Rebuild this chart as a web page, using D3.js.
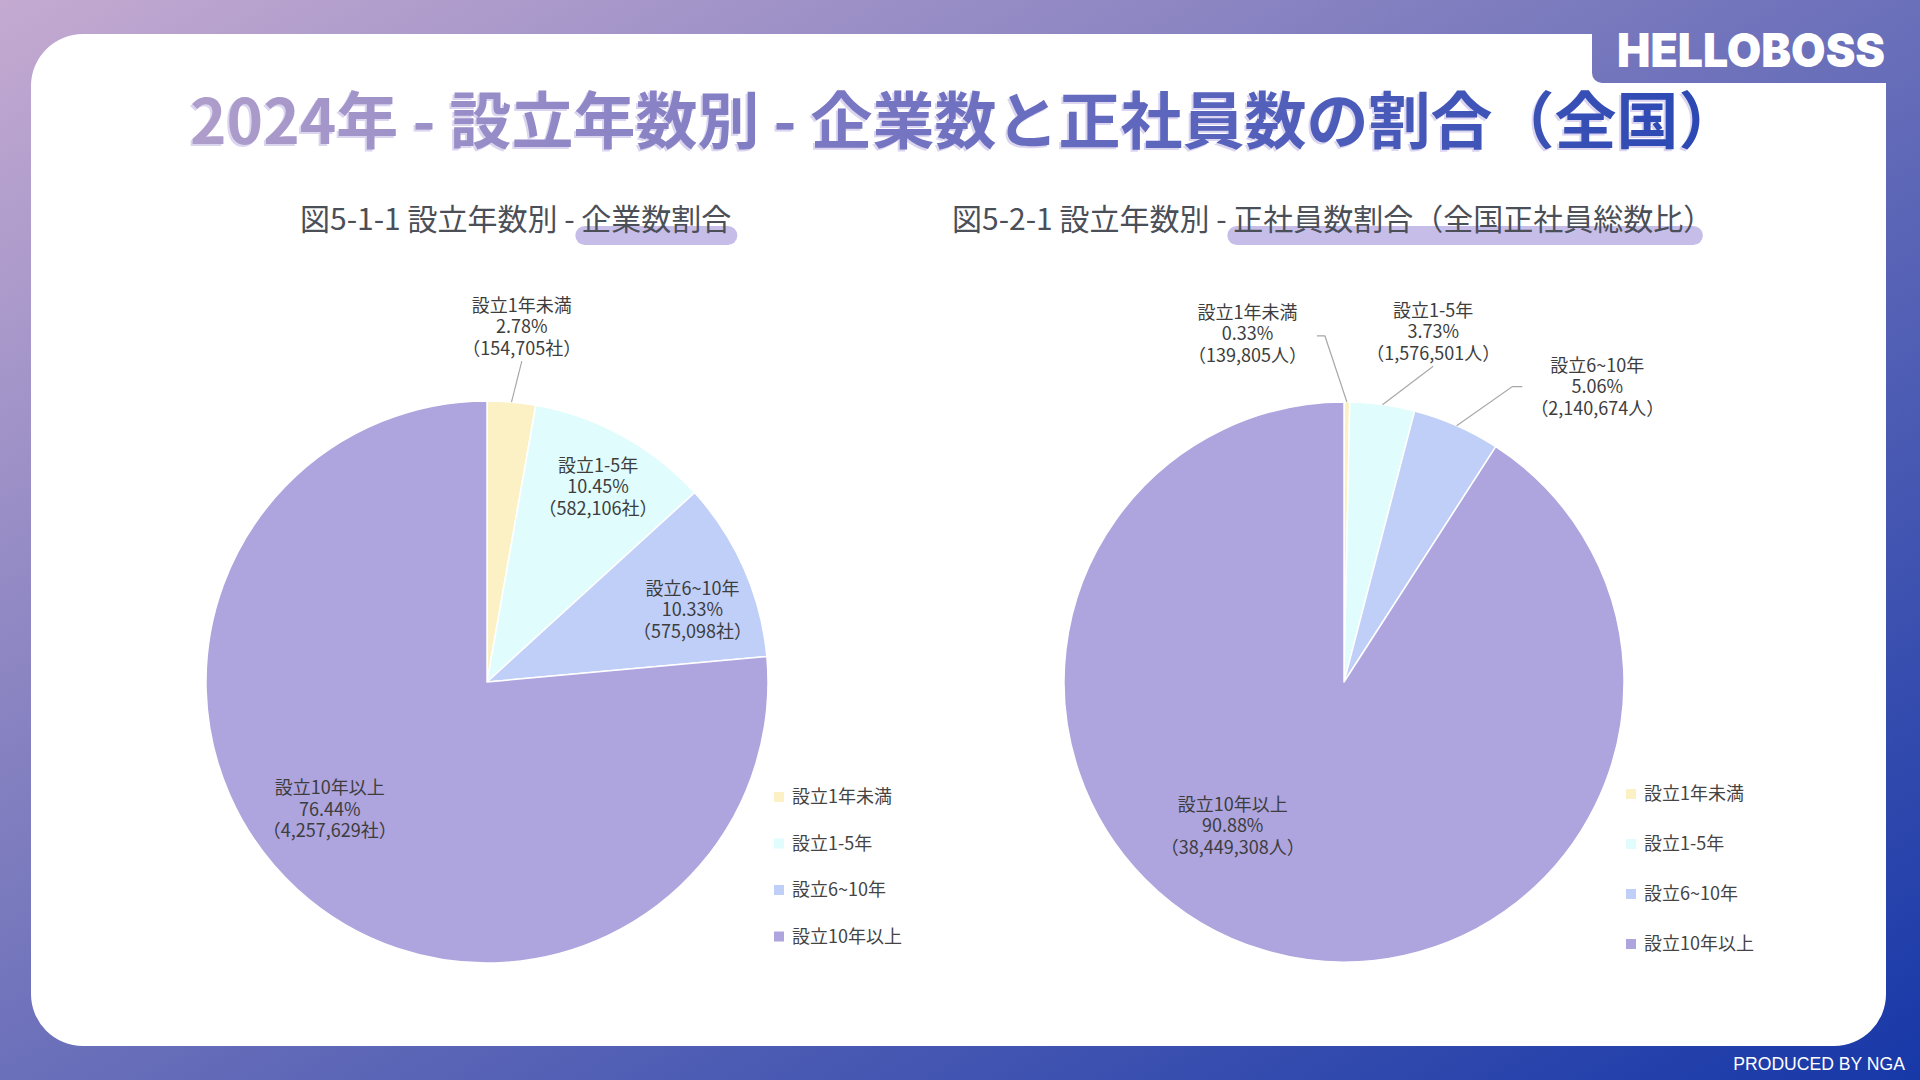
<!DOCTYPE html>
<html><head><meta charset="utf-8">
<script src="https://cdn.jsdelivr.net/npm/d3@7"></script>
<style>html,body{margin:0;padding:0;background:#fff;}svg{display:block;}</style>
</head><body>
<script>
// ---------------- data ----------------
const categories = ['設立1年未満', '設立1-5年', '設立6~10年', '設立10年以上'];
const companyCounts = [154705, 582106, 575098, 4257629];
const employeeCounts = [139805, 1576501, 2140674, 38449308];
const sliceColors = ['#fbf1c4', '#e0fcfd', '#c0cff8', '#aea4de'];
const mainTitle = '2024年 - 設立年数別 - 企業数と正社員数の割合（全国）';
const leftTitleA = '図5-1-1 設立年数別 - ', leftTitleB = '企業数割合';
const rightTitleA = '図5-2-1 設立年数別 - ', rightTitleB = '正社員数割合（全国正社員総数比）';
const leftUnit = '社', rightUnit = '人';

// ---------------- layout ----------------
const W = 1920, H = 1080;
const FONT = '"Noto Sans CJK JP", "Noto Sans", sans-serif';
const svg = d3.select('body').append('svg').attr('width', W).attr('height', H);
const defs = svg.append('defs');

const bg = defs.append('linearGradient').attr('id', 'bg')
  .attr('x1', 0).attr('y1', 0).attr('x2', 1).attr('y2', 1);
[[0, '#c4aad1'], [0.5, '#6b70ba'], [1, '#1738a8']].forEach(s =>
  bg.append('stop').attr('offset', s[0]).attr('stop-color', s[1]));

const tg = defs.append('linearGradient').attr('id', 'tg')
  .attr('gradientUnits', 'userSpaceOnUse').attr('x1', 190).attr('x2', 1705).attr('y1', 0).attr('y2', 0);
[[0, '#af9ecb'], [0.45, '#7776c2'], [1, '#2b48b3']].forEach(s =>
  tg.append('stop').attr('offset', s[0]).attr('stop-color', s[1]));

svg.append('rect').attr('width', W).attr('height', H).attr('fill', 'url(#bg)');

// card with notch at top-right
const c = {x0: 31, y0: 34, x1: 1886, y1: 1046, R: 52, nx: 1592, ny: 83, nr: 10};
const cardPath = `M${c.x0 + c.R},${c.y0} L${c.nx},${c.y0} L${c.nx},${c.ny - c.nr} A${c.nr},${c.nr} 0 0 0 ${c.nx + c.nr},${c.ny}
 L${c.x1},${c.ny} L${c.x1},${c.y1 - c.R} A${c.R},${c.R} 0 0 1 ${c.x1 - c.R},${c.y1}
 L${c.x0 + c.R},${c.y1} A${c.R},${c.R} 0 0 1 ${c.x0},${c.y1 - c.R}
 L${c.x0},${c.y0 + c.R} A${c.R},${c.R} 0 0 1 ${c.x0 + c.R},${c.y0} Z`;
svg.append('path').attr('d', cardPath).attr('fill', '#fff');

// logo
svg.append('text').attr('x', 1617).attr('y', 67).attr('textLength', 268).attr('lengthAdjust', 'spacingAndGlyphs')
  .attr('font-family', 'Inter, "DejaVu Sans", sans-serif').attr('font-weight', 900).attr('font-size', 47)
  .attr('fill', '#fff').text('HELLOBOSS');

// footer
svg.append('text').attr('x', 1905).attr('y', 1070).attr('text-anchor', 'end')
  .attr('font-family', '"Liberation Sans", Arial, sans-serif').attr('font-size', 17.6).attr('fill', '#fff')
  .text('PRODUCED BY NGA');

// main title
svg.append('text').attr('x', 188).attr('y', 146)
  .attr('font-family', FONT).attr('font-weight', 700).attr('font-size', 62)
  .attr('fill', '#dcd5f0').text(mainTitle);
svg.append('text').attr('x', 190).attr('y', 144)
  .attr('font-family', FONT).attr('font-weight', 700).attr('font-size', 62)
  .attr('fill', 'url(#tg)').text(mainTitle);

// ---------------- pies ----------------
const charts = [
  {
    values: companyCounts, unit: leftUnit, cx: 487, cy: 682, R: 281,
    titleA: leftTitleA, titleB: leftTitleB, titleX: 300, titleY: 230,
    labels: [{da: 0.6, rf: 1.27, out: true}, {da: 0.8, rf: 0.80}, {da: 4.4, rf: 0.775}, {da: 8.6, rf: 0.72}],
    legend: {x: 779, y: 797, step: 46.5}
  },
  {
    values: employeeCounts, unit: rightUnit, cx: 1344, cy: 682, R: 280,
    titleA: rightTitleA, titleB: rightTitleB, titleX: 952, titleY: 230,
    labels: [{da: -16.1, rf: 1.29, out: true}, {da: 6.4, rf: 1.29, out: true}, {da: 16.9, rf: 1.39, out: true}, {da: 21.3, rf: 0.65}],
    legend: {x: 1631, y: 794, step: 50}
  }
];

const pie = d3.pie().sort(null).value(d => d);
const fmtInt = d3.format(',');
const fmtPct = d3.format('.2f');
const LFS = 18, LH = 21.5, TFS = 30;

charts.forEach(ch => {
  // subtitle with highlight
  const t = svg.append('text').attr('x', ch.titleX).attr('y', ch.titleY)
    .attr('font-family', FONT).attr('font-size', TFS).attr('fill', '#4b4f58');
  t.append('tspan').text(ch.titleA);
  t.append('tspan').text(ch.titleB);
  const start = t.node().getSubStringLength(0, ch.titleA.length);
  let wB = t.node().getSubStringLength(ch.titleA.length, ch.titleB.length);
  if (ch.titleB.endsWith('）')) wB -= 0.55 * TFS;
  svg.insert('rect', () => t.node())
    .attr('x', ch.titleX + start - 6).attr('y', ch.titleY - 4)
    .attr('width', wB + 12).attr('height', 19).attr('rx', 9.5)
    .attr('fill', '#c6bee8');

  const total = d3.sum(ch.values);
  const arcs = pie(ch.values);
  const arc = d3.arc().innerRadius(0).outerRadius(ch.R);
  const g = svg.append('g').attr('transform', `translate(${ch.cx},${ch.cy})`);
  g.selectAll('path.slice').data(arcs).join('path').attr('class', 'slice')
    .attr('d', arc).attr('fill', (d, i) => sliceColors[i])
    .attr('stroke', '#fff').attr('stroke-width', 1.5).attr('stroke-linejoin', 'round');

  arcs.forEach((d, i) => {
    const L = ch.labels[i];
    const mid = (d.startAngle + d.endAngle) / 2;
    const a = mid + L.da * Math.PI / 180;
    const r = L.rf * ch.R;
    const lx = r * Math.sin(a), ly = -r * Math.cos(a);
    const lines = [categories[i], fmtPct(d.value / total * 100) + '%', '（' + fmtInt(d.value) + ch.unit + '）'];
    const tx = g.append('text').attr('text-anchor', 'middle')
      .attr('font-family', FONT).attr('font-size', LFS).attr('fill', '#3d3d3d');
    lines.forEach((s, k) => tx.append('tspan').attr('x', lx)
      .attr('y', ly + (k - 1) * LH + 0.36 * LFS).text(s));
    if (L.out) {
      const ex = ch.R * Math.sin(mid), ey = -ch.R * Math.cos(mid);
      const bb = tx.node().getBBox();
      let pts;
      if (ex >= bb.x - 10 && ex <= bb.x + bb.width + 10) {
        pts = [[lx, ly + 1.5 * LH + 2], [ex, ey]];
      } else if (ex > bb.x + bb.width) {
        const sx = bb.x + bb.width + 10;
        pts = [[sx, ly + 2], [sx + 8, ly + 2], [ex, ey]];
      } else {
        const sx = bb.x - 8;
        pts = [[sx, ly], [sx - 10, ly], [ex, ey]];
      }
      g.insert('path', 'text').attr('d', d3.line()(pts)).attr('fill', 'none')
        .attr('stroke', '#a8a8a8').attr('stroke-width', 1.2);
    }
  });

  // legend
  const lg = svg.append('g');
  categories.forEach((name, i) => {
    const y = ch.legend.y + i * ch.legend.step;
    lg.append('rect').attr('x', ch.legend.x - 5).attr('y', y - 5).attr('width', 10).attr('height', 10)
      .attr('fill', sliceColors[i]);
    lg.append('text').attr('x', ch.legend.x + 13).attr('y', y + 0.36 * LFS)
      .attr('font-family', FONT).attr('font-size', LFS).attr('fill', '#444').text(name);
  });
});
</script>
</body></html>
